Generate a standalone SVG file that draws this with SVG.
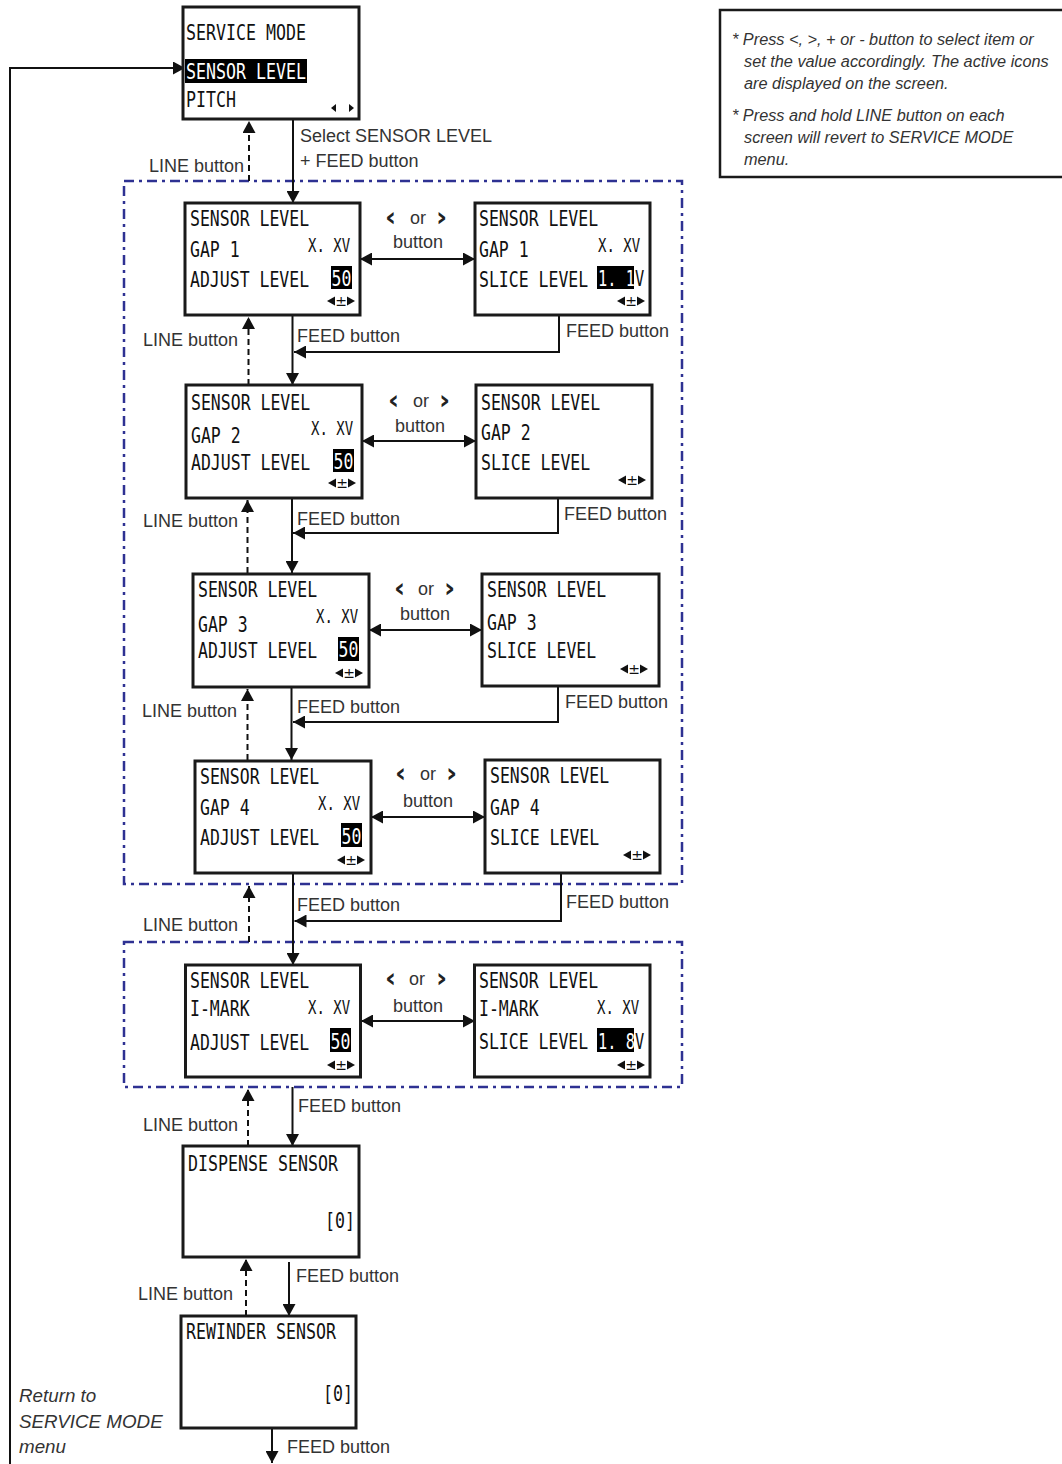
<svg xmlns="http://www.w3.org/2000/svg" xmlns:xlink="http://www.w3.org/1999/xlink" width="1062" height="1464" viewBox="0 0 1062 1464">
<style>
.box{fill:#fff;stroke:#1a1a1a;stroke-width:3}
.lcd{font-family:"DejaVu Sans Mono","Liberation Mono",monospace;font-size:22px;fill:#111}
.sm{font-size:20px}
.inv{fill:#fff}
.hl{fill:#000}
.lbl{font-family:"Liberation Sans",Arial,sans-serif;font-size:18px;fill:#333}
.chev{font-family:"DejaVu Sans",sans-serif;font-weight:bold;font-size:27px;fill:#222}
.note{font-family:"Liberation Sans",Arial,sans-serif;font-size:16.3px;font-style:italic;fill:#333}
.ret{font-family:"Liberation Sans",Arial,sans-serif;font-size:18.8px;font-style:italic;fill:#333}
.conn{fill:none;stroke:#111;stroke-width:2}
.dash{stroke-dasharray:6 4}
.grp{fill:none;stroke:#2e3192;stroke-width:2.5;stroke-dasharray:10 5 3 5}
.tri{fill:#111}
.pm{font-family:"DejaVu Sans",sans-serif;font-size:14px;fill:#111}
</style>
<defs>
<marker id="ah" markerUnits="userSpaceOnUse" markerWidth="13" markerHeight="13" refX="12" refY="6.5" orient="auto"><path d="M0,0 L12,6.5 L0,13 z" fill="#111"/></marker>
<marker id="ah2" markerUnits="userSpaceOnUse" markerWidth="13" markerHeight="13" refX="12" refY="6.5" orient="auto-start-reverse"><path d="M0,0 L12,6.5 L0,13 z" fill="#111"/></marker>
<g id="ico"><polygon class="tri" points="0,0 8,-4.5 8,4.5"/><text class="pm" x="14" y="5" text-anchor="middle">±</text><polygon class="tri" points="20,-4.5 28,0 20,4.5"/></g>
</defs>

<!-- note -->
<g id="note">
<rect x="720" y="10" width="360" height="167" fill="#fff" stroke="#1a1a1a" stroke-width="2.5"/>
<text class="note" x="732" y="45">* Press &lt;, &gt;, + or - button to select item or</text>
<text class="note" x="744" y="67">set the value accordingly. The active icons</text>
<text class="note" x="744" y="89">are displayed on the screen.</text>
<text class="note" x="732" y="121">* Press and hold LINE button on each</text>
<text class="note" x="744" y="143">screen will revert to SERVICE MODE</text>
<text class="note" x="744" y="165">menu.</text>
</g>

<!-- group frames -->
<g id="groups">
<rect class="grp" x="124" y="181" width="558" height="703"/>
<rect class="grp" x="124" y="942" width="558" height="145"/>
</g>

<!-- connectors -->
<g id="connectors">
<path class="conn" d="M10,1464 V68 H185" marker-end="url(#ah)"/>
<path class="conn" d="M293,119 V203" marker-end="url(#ah)"/>
<path class="conn dash" d="M249,181 V121" marker-end="url(#ah)"/>
<path class="conn" d="M360,259 H475" marker-start="url(#ah2)" marker-end="url(#ah2)"/>
<path class="conn" d="M292.5,315 V385" marker-end="url(#ah)"/>
<path class="conn" d="M559,315 V352 H294" marker-end="url(#ah)"/>
<path class="conn dash" d="M248.5,385 V317" marker-end="url(#ah)"/>
<path class="conn" d="M362,441 H476" marker-start="url(#ah2)" marker-end="url(#ah2)"/>
<path class="conn" d="M292,498 V573" marker-end="url(#ah)"/>
<path class="conn" d="M558,498 V533 H293" marker-end="url(#ah)"/>
<path class="conn dash" d="M247.5,573 V500" marker-end="url(#ah)"/>
<path class="conn" d="M369,630 H482" marker-start="url(#ah2)" marker-end="url(#ah2)"/>
<path class="conn" d="M291.5,687 V760" marker-end="url(#ah)"/>
<path class="conn" d="M558,686 V722 H293" marker-end="url(#ah)"/>
<path class="conn dash" d="M247.5,760 V689" marker-end="url(#ah)"/>
<path class="conn" d="M371,817 H485" marker-start="url(#ah2)" marker-end="url(#ah2)"/>
<path class="conn" d="M293,873 V965" marker-end="url(#ah)"/>
<path class="conn" d="M561,873 V921 H294.5" marker-end="url(#ah)"/>
<path class="conn dash" d="M249,942 V886" marker-end="url(#ah)"/>
<path class="conn" d="M361,1021 H475" marker-start="url(#ah2)" marker-end="url(#ah2)"/>
<path class="conn" d="M292.5,1087 V1146" marker-end="url(#ah)"/>
<path class="conn dash" d="M248,1146 V1089" marker-end="url(#ah)"/>
<path class="conn" d="M289,1262 V1316" marker-end="url(#ah)"/>
<path class="conn dash" d="M246,1316 V1259" marker-end="url(#ah)"/>
<path class="conn" d="M272,1428 V1463" marker-end="url(#ah)"/>

<text class="lbl" x="300" y="142">Select SENSOR LEVEL</text>
<text class="lbl" x="300" y="167">+ FEED button</text>
<text class="lbl" x="244" y="172" text-anchor="end">LINE button</text>

<text class="lbl" y="224"><tspan class="chev" x="385" y="226">‹</tspan> <tspan x="410" y="224">or</tspan> <tspan class="chev" x="436" y="226">›</tspan></text>
<text class="lbl" x="393" y="248">button</text>
<text class="lbl" x="297" y="342">FEED button</text>
<text class="lbl" x="566" y="337">FEED button</text>
<text class="lbl" x="238" y="346" text-anchor="end">LINE button</text>

<text class="lbl" y="407"><tspan class="chev" x="388" y="409">‹</tspan> <tspan x="413" y="407">or</tspan> <tspan class="chev" x="439" y="409">›</tspan></text>
<text class="lbl" x="395" y="432">button</text>
<text class="lbl" x="297" y="525">FEED button</text>
<text class="lbl" x="564" y="520">FEED button</text>
<text class="lbl" x="238" y="527" text-anchor="end">LINE button</text>

<text class="lbl" y="595"><tspan class="chev" x="394" y="597">‹</tspan> <tspan x="418" y="595">or</tspan> <tspan class="chev" x="444" y="597">›</tspan></text>
<text class="lbl" x="400" y="620">button</text>
<text class="lbl" x="297" y="713">FEED button</text>
<text class="lbl" x="565" y="708">FEED button</text>
<text class="lbl" x="237" y="717" text-anchor="end">LINE button</text>

<text class="lbl" y="780"><tspan class="chev" x="395" y="782">‹</tspan> <tspan x="420" y="780">or</tspan> <tspan class="chev" x="446" y="782">›</tspan></text>
<text class="lbl" x="403" y="807">button</text>
<text class="lbl" x="297" y="911">FEED button</text>
<text class="lbl" x="566" y="908">FEED button</text>
<text class="lbl" x="238" y="931" text-anchor="end">LINE button</text>

<text class="lbl" y="985"><tspan class="chev" x="385" y="987">‹</tspan> <tspan x="409" y="985">or</tspan> <tspan class="chev" x="436" y="987">›</tspan></text>
<text class="lbl" x="393" y="1012">button</text>
<text class="lbl" x="298" y="1112">FEED button</text>
<text class="lbl" x="238" y="1131" text-anchor="end">LINE button</text>

<text class="lbl" x="296" y="1282">FEED button</text>
<text class="lbl" x="233" y="1300" text-anchor="end">LINE button</text>
<text class="lbl" x="287" y="1453">FEED button</text>

<text class="ret" x="19" y="1402">Return to</text>
<text class="ret" x="19" y="1428">SERVICE MODE</text>
<text class="ret" x="19" y="1453">menu</text>
</g>

<!-- SERVICE MODE -->
<g id="service-mode">
<rect class="box" x="183" y="7" width="176" height="112"/>
<text class="lcd" transform="translate(186,40) scale(0.755,1)">SERVICE MODE</text>
<rect class="hl" x="185" y="59" width="122" height="24"/>
<text class="lcd inv" transform="translate(186,79) scale(0.755,1)">SENSOR LEVEL</text>
<text class="lcd" transform="translate(186,107) scale(0.755,1)">PITCH</text>
<polygon class="tri" points="331,108 336,104 336,112"/>
<polygon class="tri" points="349,104 354,108 349,112"/>
</g>

<!-- GAP 1 -->
<g id="gap1-adjust">
<rect class="box" x="185" y="203" width="175" height="112"/>
<text class="lcd" transform="translate(190,226) scale(0.75,1)">SENSOR LEVEL</text>
<text class="lcd" transform="translate(190,257) scale(0.75,1)">GAP 1</text>
<text class="lcd sm" transform="translate(308,252) scale(0.7,1)">X. XV</text>
<text class="lcd" transform="translate(190,287) scale(0.75,1)">ADJUST LEVEL</text>
<rect class="hl" x="331" y="266" width="21" height="23"/>
<text class="lcd inv" transform="translate(331.5,286) scale(0.75,1)">50</text>
<use xlink:href="#ico" x="327" y="301"/>
</g>
<g id="gap1-slice">
<rect class="box" x="475" y="203" width="175" height="112"/>
<text class="lcd" transform="translate(479,226) scale(0.75,1)">SENSOR LEVEL</text>
<text class="lcd" transform="translate(479,257) scale(0.75,1)">GAP 1</text>
<text class="lcd sm" transform="translate(598,252) scale(0.7,1)">X. XV</text>
<text class="lcd" transform="translate(479,287) scale(0.75,1)">SLICE LEVEL</text>
<rect class="hl" x="597" y="266" width="37" height="23"/>
<text class="lcd" transform="translate(598,286) scale(0.7,1)"><tspan class="inv">1. 1</tspan>V</text>
<use xlink:href="#ico" x="617" y="301"/>
</g>

<!-- GAP 2 -->
<g id="gap2-adjust">
<rect class="box" x="186" y="385" width="176" height="113"/>
<text class="lcd" transform="translate(191,410) scale(0.75,1)">SENSOR LEVEL</text>
<text class="lcd" transform="translate(191,443) scale(0.75,1)">GAP 2</text>
<text class="lcd sm" transform="translate(311,435) scale(0.7,1)">X. XV</text>
<text class="lcd" transform="translate(191,470) scale(0.75,1)">ADJUST LEVEL</text>
<rect class="hl" x="333" y="449" width="21" height="23"/>
<text class="lcd inv" transform="translate(333.5,469) scale(0.75,1)">50</text>
<use xlink:href="#ico" x="328" y="483"/>
</g>
<g id="gap2-slice">
<rect class="box" x="476" y="385" width="176" height="113"/>
<text class="lcd" transform="translate(481,410) scale(0.75,1)">SENSOR LEVEL</text>
<text class="lcd" transform="translate(481,440) scale(0.75,1)">GAP 2</text>
<text class="lcd" transform="translate(481,470) scale(0.75,1)">SLICE LEVEL</text>
<use xlink:href="#ico" x="618" y="480"/>
</g>

<!-- GAP 3 -->
<g id="gap3-adjust">
<rect class="box" x="193" y="574" width="176" height="113"/>
<text class="lcd" transform="translate(198,597) scale(0.75,1)">SENSOR LEVEL</text>
<text class="lcd" transform="translate(198,632) scale(0.75,1)">GAP 3</text>
<text class="lcd sm" transform="translate(316,623) scale(0.7,1)">X. XV</text>
<text class="lcd" transform="translate(198,658) scale(0.75,1)">ADJUST LEVEL</text>
<rect class="hl" x="338" y="637" width="21" height="24"/>
<text class="lcd inv" transform="translate(338.5,657) scale(0.75,1)">50</text>
<use xlink:href="#ico" x="335" y="673"/>
</g>
<g id="gap3-slice">
<rect class="box" x="482" y="574" width="177" height="112"/>
<text class="lcd" transform="translate(487,597) scale(0.75,1)">SENSOR LEVEL</text>
<text class="lcd" transform="translate(487,630) scale(0.75,1)">GAP 3</text>
<text class="lcd" transform="translate(487,658) scale(0.75,1)">SLICE LEVEL</text>
<use xlink:href="#ico" x="620" y="669"/>
</g>

<!-- GAP 4 -->
<g id="gap4-adjust">
<rect class="box" x="195" y="761" width="176" height="112"/>
<text class="lcd" transform="translate(200,784) scale(0.75,1)">SENSOR LEVEL</text>
<text class="lcd" transform="translate(200,815) scale(0.75,1)">GAP 4</text>
<text class="lcd sm" transform="translate(318,810) scale(0.7,1)">X. XV</text>
<text class="lcd" transform="translate(200,845) scale(0.75,1)">ADJUST LEVEL</text>
<rect class="hl" x="341" y="823" width="21" height="24"/>
<text class="lcd inv" transform="translate(341.5,844) scale(0.75,1)">50</text>
<use xlink:href="#ico" x="337" y="860"/>
</g>
<g id="gap4-slice">
<rect class="box" x="485" y="760" width="175" height="113"/>
<text class="lcd" transform="translate(490,783) scale(0.75,1)">SENSOR LEVEL</text>
<text class="lcd" transform="translate(490,815) scale(0.75,1)">GAP 4</text>
<text class="lcd" transform="translate(490,845) scale(0.75,1)">SLICE LEVEL</text>
<use xlink:href="#ico" x="623" y="855"/>
</g>

<!-- I-MARK -->
<g id="imark-adjust">
<rect class="box" x="185.5" y="965" width="175" height="112"/>
<text class="lcd" transform="translate(190,988) scale(0.75,1)">SENSOR LEVEL</text>
<text class="lcd" transform="translate(190,1016) scale(0.75,1)">I-MARK</text>
<text class="lcd sm" transform="translate(308,1014) scale(0.7,1)">X. XV</text>
<text class="lcd" transform="translate(190,1050) scale(0.75,1)">ADJUST LEVEL</text>
<rect class="hl" x="330" y="1028" width="21" height="24"/>
<text class="lcd inv" transform="translate(330.5,1049) scale(0.75,1)">50</text>
<use xlink:href="#ico" x="327" y="1065"/>
</g>
<g id="imark-slice">
<rect class="box" x="474.5" y="965" width="175.5" height="112"/>
<text class="lcd" transform="translate(479,988) scale(0.75,1)">SENSOR LEVEL</text>
<text class="lcd" transform="translate(479,1016) scale(0.75,1)">I-MARK</text>
<text class="lcd sm" transform="translate(597,1014) scale(0.7,1)">X. XV</text>
<text class="lcd" transform="translate(479,1049) scale(0.75,1)">SLICE LEVEL</text>
<rect class="hl" x="597" y="1028" width="37" height="24"/>
<text class="lcd" transform="translate(598,1049) scale(0.7,1)"><tspan class="inv">1. 8</tspan>V</text>
<use xlink:href="#ico" x="617" y="1065"/>
</g>

<!-- DISPENSE SENSOR -->
<g id="dispense-sensor">
<rect class="box" x="183" y="1146" width="176" height="111"/>
<text class="lcd" transform="translate(188,1171) scale(0.755,1)">DISPENSE SENSOR</text>
<text class="lcd" transform="translate(325,1228) scale(0.755,1)">[0]</text>
</g>

<!-- REWINDER SENSOR -->
<g id="rewinder-sensor">
<rect class="box" x="181" y="1316" width="175" height="112"/>
<text class="lcd" transform="translate(186,1339) scale(0.755,1)">REWINDER SENSOR</text>
<text class="lcd" transform="translate(323,1401) scale(0.755,1)">[0]</text>
</g>
</svg>
